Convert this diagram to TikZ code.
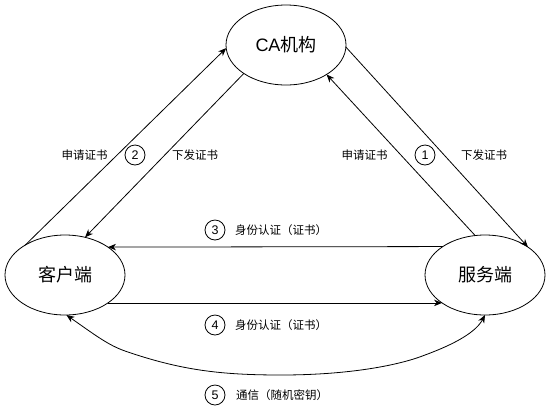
\documentclass[tikz,border=0pt]{standalone}
\usepackage{fontspec}
\setmainfont{Liberation Sans}
\newfontfamily\cjk{Noto Sans CJK SC}
\usetikzlibrary{shapes.geometric,arrows.meta}
\tikzset{
  party/.style={ellipse,draw,line width=0.8pt,minimum width=120pt,minimum height=80pt,inner sep=0pt,outer sep=0pt,font=\fontsize{18pt}{20pt}\selectfont\cjk},
  conn/.style={line width=0.8pt,-{Stealth[length=8pt,width=6.5pt,inset=2.5pt]}},
  biconn/.style={line width=0.8pt,{Stealth[length=8pt,width=6.5pt,inset=2.5pt]}-{Stealth[length=8pt,width=6.5pt,inset=2.5pt]}},
  lbl/.style={inner sep=0pt,font=\fontsize{11.5pt}{13pt}\selectfont\cjk},
  num/.style={circle,draw,line width=0.8pt,minimum size=20pt,inner sep=0pt,font=\fontsize{12.5pt}{14pt}\selectfont}
}
\begin{document}
\begin{tikzpicture}[x=1pt,y=-1pt]
\useasboundingbox (0,0) rectangle (551,416);
\node[party] (ca) at (286,45) {{\rmfamily CA}机构};
\node[party] (client) at (65,275) {客户端};
\node[party] (server) at (485,275) {服务端};

\draw[conn] (client.143) -- (ca.183);
\draw[conn] (ca.214) -- (client.62);
\draw[conn] (server.104) -- (ca.324.5);
\draw[conn] (ca.358) -- (server.33.7);
\draw[conn] (server.146.8) -- (client.33.2);
\draw[conn] (client.-33.2) -- (server.213.2);
\draw[biconn] (client.272) .. controls (95,335) and (108,345) .. (125,351)
  .. controls (180,370) and (220,375) .. (281,375)
  .. controls (350,375) and (400,365) .. (425,355)
  .. controls (455,344) and (476,332) .. (server.270);

\node[lbl] (l2a) at (84.5,155) {申请证书};
\node[num] (n2) at (135,155) {2};
\node[lbl] (l2b) at (195,155) {下发证书};
\node[lbl] (l1a) at (364.5,155) {申请证书};
\node[num] (n1) at (425,155) {1};
\node[lbl] (l1b) at (484,155) {下发证书};
\node[num] (n3) at (215,230) {3};
\node[lbl,anchor=west] (l3) at (235,230) {身份认证（证书）};
\node[num] (n4) at (215,325) {4};
\node[lbl,anchor=west] (l4) at (235,325) {身份认证（证书）};
\node[num] (n5) at (215,395) {5};
\node[lbl,anchor=west] (l5) at (236,395) {通信（随机密钥）};
\end{tikzpicture}
\end{document}
